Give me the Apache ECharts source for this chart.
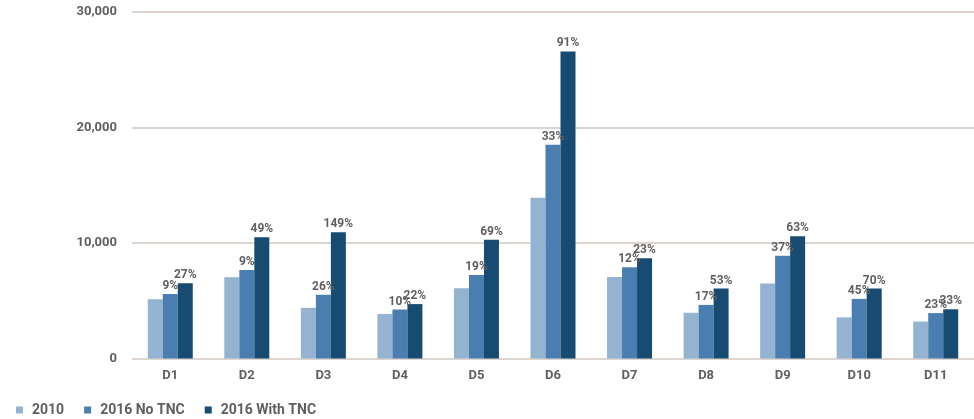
<!DOCTYPE html>
<html>
<head>
<meta charset="utf-8">
<script src="https://cdn.jsdelivr.net/npm/echarts@6/dist/echarts.min.js"></script>
<style>
  html, body { margin: 0; padding: 0; background: #ffffff; }
  #chart { width: 974px; height: 419px; }
</style>
</head>
<body>
<div id="chart"></div>
<script>
// Districts and trip volumes per scenario
const districts = ['D1', 'D2', 'D3', 'D4', 'D5', 'D6', 'D7', 'D8', 'D9', 'D10', 'D11'];
const base2010 = [5130, 7040, 4390, 3860, 6080, 13920, 7050, 3960, 6490, 3560, 3200];
const noTnc2016 = [5590, 7670, 5530, 4240, 7230, 18510, 7900, 4640, 8890, 5160, 3930];
const withTnc2016 = [6510, 10490, 10930, 4710, 10280, 26590, 8670, 6060, 10580, 6050, 4260];
// Growth over 2010 shown above each 2016 bar
const noTncGrowth = ['9%', '9%', '26%', '10%', '19%', '33%', '12%', '17%', '37%', '45%', '23%'];
const withTncGrowth = ['27%', '49%', '149%', '22%', '69%', '91%', '23%', '53%', '63%', '70%', '33%'];
const seriesNames = ['2010', '2016 No TNC', '2016 With TNC'];

const FONT = 'Roboto';
const TEXT = '#5f5f5f';

function labelled(values, labels) {
  return values.map((v, i) => ({ value: v, label: { formatter: labels[i] } }));
}

const barLabel = {
  show: true,
  position: 'top',
  distance: 2,
  color: TEXT,
  fontFamily: FONT,
  fontWeight: 'bold',
  fontSize: 12
};

const chart = echarts.init(document.getElementById('chart'), null, { renderer: 'canvas' });
chart.setOption({
  animation: false,
  backgroundColor: '#ffffff',
  color: ['#93b3d1', '#4a7db0', '#174b71'],
  grid: { left: 132, top: 12, width: 847, bottom: 60.5, containLabel: false },
  legend: {
    left: 11,
    top: 398,
    itemWidth: 7,
    itemHeight: 7,
    itemGap: 20,
    icon: 'rect',
    textStyle: { color: TEXT, fontFamily: FONT, fontWeight: 'bold', fontSize: 14, padding: [0, 0, 0, 4] },
    data: seriesNames
  },
  xAxis: {
    type: 'category',
    data: districts,
    axisLine: { show: false },
    axisTick: { show: false },
    axisLabel: { color: TEXT, fontFamily: FONT, fontWeight: 'bold', fontSize: 13, margin: 11 }
  },
  yAxis: {
    type: 'value',
    min: 0,
    max: 30000,
    interval: 10000,
    axisLine: { show: false },
    axisTick: { show: false },
    axisLabel: {
      color: TEXT, fontFamily: FONT, fontWeight: 'bold', fontSize: 13, margin: 15,
      formatter: v => v.toLocaleString('en-US')
    },
    splitLine: { lineStyle: { color: '#ddd6d0', width: 2 } }
  },
  series: [
    { name: seriesNames[0], type: 'bar', barWidth: 15, barGap: '0%', data: base2010 },
    { name: seriesNames[1], type: 'bar', barWidth: 15, barGap: '0%', label: barLabel, data: labelled(noTnc2016, noTncGrowth) },
    { name: seriesNames[2], type: 'bar', barWidth: 15, barGap: '0%', label: barLabel, data: labelled(withTnc2016, withTncGrowth) }
  ]
});
</script>
</body>
</html>
